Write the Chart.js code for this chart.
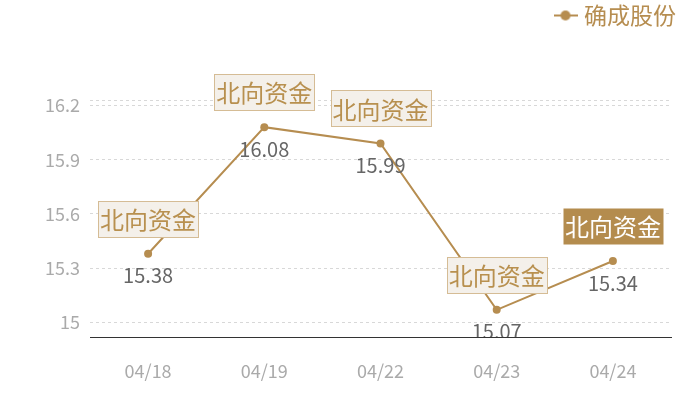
<!DOCTYPE html>
<html>
<head>
<meta charset="utf-8">
<script src="https://cdn.jsdelivr.net/npm/chart.js@4.4.0/dist/chart.umd.min.js"></script>
<style>
  html, body { margin: 0; padding: 0; background: #fff; }
  #wrap { width: 700px; height: 400px; }
</style>
</head>
<body>
<div id="wrap"><canvas id="priceChart" width="700" height="400"></canvas></div>
<script>
var dates = ["04/18", "04/19", "04/22", "04/23", "04/24"];
var prices = [15.38, 16.08, 15.99, 15.07, 15.34];
var markTexts = ["北向资金", "北向资金", "北向资金", "北向资金", "北向资金"];
var yTicks = [15, 15.3, 15.6, 15.9, 16.2];
var seriesName = "确成股份";

document.addEventListener("DOMContentLoaded", function () {
    var fontFamily = "'Noto Sans CJK SC', 'Noto Sans', sans-serif";
    var gold = "#b68d50";

    // legend marker: short line with a dot in the middle
    var legendIcon = document.createElement("canvas");
    legendIcon.width = 24;
    legendIcon.height = 12;
    var ic = legendIcon.getContext("2d");
    ic.strokeStyle = gold;
    ic.lineWidth = 2;
    ic.beginPath();
    ic.moveTo(0, 6);
    ic.lineTo(24, 6);
    ic.stroke();
    ic.fillStyle = gold;
    ic.beginPath();
    ic.arc(12, 6, 5, 0, Math.PI * 2);
    ic.fill();

    // legend takes the whole band above the plot, item pushed to the right edge
    var legendSpace = {
        id: "legendSpace",
        beforeInit: function (chart) {
            var fit = chart.legend.fit;
            chart.legend.fit = function () {
                fit.bind(chart.legend)();
                this.height = 100;
            };
        },
        afterLayout: function (chart) {
            chart.legend.left += 10;
            chart.legend.right += 10;
            chart.legend.top -= 1;
        }
    };

    var markPlugin = {
        id: "marks",
        afterDatasetsDraw: function (chart) {
            var ctx = chart.ctx;
            var meta = chart.getDatasetMeta(0);
            var area = chart.chartArea;

            // value labels under the points
            ctx.save();
            ctx.beginPath();
            ctx.rect(area.left, area.top, area.right - area.left, area.bottom - area.top);
            ctx.clip();
            ctx.font = "20px " + fontFamily;
            ctx.fillStyle = "#666";
            ctx.textAlign = "center";
            ctx.textBaseline = "middle";
            meta.data.forEach(function (pt, i) {
                ctx.fillText(prices[i].toFixed(2), pt.x, pt.y + 22);
            });
            ctx.restore();

            // "北向资金" tags above the points
            ctx.save();
            ctx.font = "24px " + fontFamily;
            ctx.textAlign = "center";
            ctx.textBaseline = "middle";
            meta.data.forEach(function (pt, i) {
                var w = 100, h = 36;
                var x = Math.round(pt.x - w / 2) + 0.5;
                var y = Math.round(pt.y - 35 - h / 2) + 0.5;
                var last = i === meta.data.length - 1;
                ctx.fillStyle = last ? "#b48c4e" : "#f4f0ea";
                ctx.fillRect(x, y, w, h);
                if (!last) {
                    ctx.strokeStyle = "#d5bc95";
                    ctx.lineWidth = 1;
                    ctx.strokeRect(x, y, w, h);
                }
                ctx.fillStyle = last ? "#fff" : "#b8904f";
                ctx.fillText(markTexts[i], pt.x, pt.y - 34);
            });
            ctx.restore();
        }
    };

    var ctx = document.getElementById("priceChart").getContext("2d");

    new Chart(ctx, {
        type: "line",
        data: {
            labels: dates,
            datasets: [
                {
                    label: seriesName,
                    data: prices,
                    borderColor: gold,
                    backgroundColor: gold,
                    borderWidth: 2,
                    tension: 0,
                    pointRadius: 4,
                    pointBackgroundColor: gold,
                    pointBorderWidth: 0,
                    pointHoverRadius: 4,
                },
            ],
        },
        options: {
            responsive: false,
            devicePixelRatio: 1,
            animation: false,
            layout: {
                padding: { top: 0, right: 29, bottom: 0, left: 0 },
            },
            scales: {
                x: {
                    offset: true,
                    grid: { display: false },
                    border: { color: "#333", width: 1 },
                    ticks: {
                        color: "#aaa",
                        font: { size: 18, family: fontFamily },
                        padding: 15,
                    },
                    afterFit: function (scale) {
                        scale.height = 63;
                    },
                },
                y: {
                    min: 14.92,
                    max: 16.23,
                    afterBuildTicks: function (scale) {
                        scale.ticks = yTicks.concat([scale.max]).map(function (v) {
                            return { value: v };
                        });
                    },
                    afterFit: function (scale) {
                        scale.width = 90;
                    },
                    border: { display: false, dash: [3, 3] },
                    grid: { color: "#d8d8d8", drawTicks: false },
                    ticks: {
                        color: "#aaa",
                        font: { size: 18, family: fontFamily },
                        padding: 10,
                        callback: function (value) {
                            return yTicks.indexOf(value) >= 0 ? String(value) : "";
                        },
                    },
                },
            },
            plugins: {
                legend: {
                    display: true,
                    position: "top",
                    align: "end",
                    labels: {
                        usePointStyle: true,
                        pointStyleWidth: 14,
                        color: gold,
                        padding: 5,
                        font: { size: 23, family: fontFamily },
                        generateLabels: function () {
                            return [{
                                text: seriesName,
                                pointStyle: legendIcon,
                                fontColor: gold,
                                fillStyle: gold,
                                strokeStyle: gold,
                                lineWidth: 0,
                                hidden: false,
                                datasetIndex: 0,
                            }];
                        },
                    },
                },
                tooltip: { enabled: false },
            },
        },
        plugins: [legendSpace, markPlugin],
    });
});
</script>
</body>
</html>
